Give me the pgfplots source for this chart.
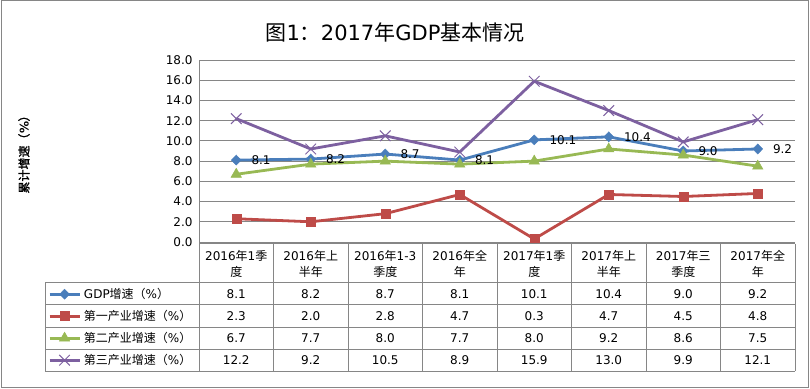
\documentclass[border=0pt]{standalone}
\usepackage{fontspec}
\setmainfont{DejaVu Sans}
\newfontfamily\cjk{Noto Sans CJK SC}
\newfontfamily\cjkbf{Noto Sans CJK SC}[FakeBold=1.5]
\newcommand\C[1]{{\cjk #1}}
\usepackage{pgfplots}
\pgfplotsset{compat=1.18}
\definecolor{cblue}{RGB}{74,126,187}
\definecolor{cred}{RGB}{190,75,72}
\definecolor{cgreen}{RGB}{152,185,84}
\definecolor{cpurple}{RGB}{125,96,160}
\definecolor{cgrid}{RGB}{134,134,134}
\newcommand\LS{\rule[-1pt]{0pt}{11pt}}
\begin{document}
\begin{tikzpicture}[x=1pt,y=1pt]
\useasboundingbox (0,0) rectangle (810,388);
\draw[cgrid, line width=1pt] (1,1) rectangle (808,387);
\node[font=\fontsize{21}{24}\selectfont] at (395,356) {\C{图}1\C{：}2017\C{年}GDP\C{基本情况}};
\node[rotate=90, inner sep=0pt] at (24,236.5) {\fontsize{12}{14}\selectfont{\cjkbf 累计增速（}{\bfseries\%}{\cjkbf ）}};
\begin{axis}[
  at={(199pt,146pt)}, anchor=south west, scale only axis,
  width=596pt, height=182pt,
  xmin=-0.5, xmax=7.5, ymin=0, ymax=18,
  ytick={0,2,...,18}, xtick=\empty,
  ymajorgrids, grid style={cgrid, line width=0.9pt},
  axis x line*=bottom, axis y line*=left,
  axis line style={cgrid, line width=0.9pt, -},
  major tick length=0pt,
  yticklabel={\pgfmathprintnumber[fixed,fixed zerofill,precision=1,assume math mode=true]{\tick}},
  yticklabel style={font=\fontsize{12}{14}\selectfont, xshift=-3pt},
  clip=false,
  legend style={at={(axis description cs:-0.2534,-0.228)}, anchor=north west,
    draw=none, fill=none, inner sep=0pt, row sep=1pt, column sep=3pt,
    font=\fontsize{12}{14}\selectfont,
    nodes={inner sep=0pt}},
  legend cell align=left,
  legend image code/.code={\path[draw=none, fill=none] (0pt,-10.5pt) rectangle (30pt,10.5pt);
    \draw[#1, mark repeat=2, mark phase=2] plot coordinates {(0pt,0pt)(15pt,0pt)(30pt,0pt)};},
]
\addplot[cblue, line width=2.8pt, mark=diamond*, mark size=5pt,
  mark options={solid, draw=cblue, fill=cblue, line width=0.5pt, xscale=1.3},
  point meta=y,
  nodes near coords={\pgfmathprintnumber[fixed,fixed zerofill,precision=1,assume math mode=true]{\pgfplotspointmeta}},
  every node near coord/.append style={anchor=west, xshift=15pt, inner sep=0pt, text=black, font=\fontsize{12}{14}\selectfont}]
  coordinates {(0,8.1)(1,8.2)(2,8.7)(3,8.1)(4,10.1)(5,10.4)(6,9.0)(7,9.2)};
\addlegendentry{\LS GDP\C{增速（}\%\C{）}}
\addplot[cred, line width=2.8pt, mark=square*, mark size=4.5pt,
  mark options={solid, draw=cred, fill=cred, line width=0.5pt}]
  coordinates {(0,2.3)(1,2.0)(2,2.8)(3,4.7)(4,0.3)(5,4.7)(6,4.5)(7,4.8)};
\addlegendentry{\LS\C{第一产业增速（}\%\C{）}}
\addplot[cgreen, line width=2.8pt, mark=triangle*, mark size=6pt,
  mark options={solid, draw=cgreen, fill=cgreen, line width=0.5pt}]
  coordinates {(0,6.7)(1,7.7)(2,8.0)(3,7.7)(4,8.0)(5,9.2)(6,8.6)(7,7.5)};
\addlegendentry{\LS\C{第二产业增速（}\%\C{）}}
\addplot[cpurple, line width=2.8pt, mark=x, mark size=7.5pt,
  mark options={solid, draw=cpurple, line width=1pt}]
  coordinates {(0,12.2)(1,9.2)(2,10.5)(3,8.9)(4,15.9)(5,13.0)(6,9.9)(7,12.1)};
\addlegendentry{\LS\C{第三产业增速（}\%\C{）}}
\end{axis}
% data table
\draw[cgrid, line width=1pt] (199,144) -- (795,144);
\foreach \yy in {105,83,61,39,17} \draw[cgrid, line width=1pt] (45,\yy) -- (795,\yy);
\draw[cgrid, line width=1pt] (45,105) -- (45,17);
\foreach \k in {0,...,8} \draw[cgrid, line width=1pt] (199+74.5*\k,144) -- (199+74.5*\k,17);
\foreach \k/\t in {0/{2016\C{年}1\C{季}\\\C{度}},1/{2016\C{年上}\\\C{半年}},2/{2016\C{年}1-3\\\C{季度}},3/{2016\C{年全}\\\C{年}},4/{2017\C{年}1\C{季}\\\C{度}},5/{2017\C{年上}\\\C{半年}},6/{2017\C{年三}\\\C{季度}},7/{2017\C{年全}\\\C{年}}}
  \node[align=center, font=\fontsize{12}{16}\selectfont, inner sep=0pt] at (236.25+74.5*\k,124.5) {\t};
\foreach \v [count=\i from 0] in {8.1,8.2,8.7,8.1,10.1,10.4,9.0,9.2}
  \node[anchor=base, inner sep=0pt, font=\fontsize{12}{14}\selectfont] at (236.25+74.5*\i,89.5) {\v};
\foreach \v [count=\i from 0] in {2.3,2.0,2.8,4.7,0.3,4.7,4.5,4.8}
  \node[anchor=base, inner sep=0pt, font=\fontsize{12}{14}\selectfont] at (236.25+74.5*\i,67.5) {\v};
\foreach \v [count=\i from 0] in {6.7,7.7,8.0,7.7,8.0,9.2,8.6,7.5}
  \node[anchor=base, inner sep=0pt, font=\fontsize{12}{14}\selectfont] at (236.25+74.5*\i,45.5) {\v};
\foreach \v [count=\i from 0] in {12.2,9.2,10.5,8.9,15.9,13.0,9.9,12.1}
  \node[anchor=base, inner sep=0pt, font=\fontsize{12}{14}\selectfont] at (236.25+74.5*\i,23.5) {\v};
\end{tikzpicture}
\end{document}
